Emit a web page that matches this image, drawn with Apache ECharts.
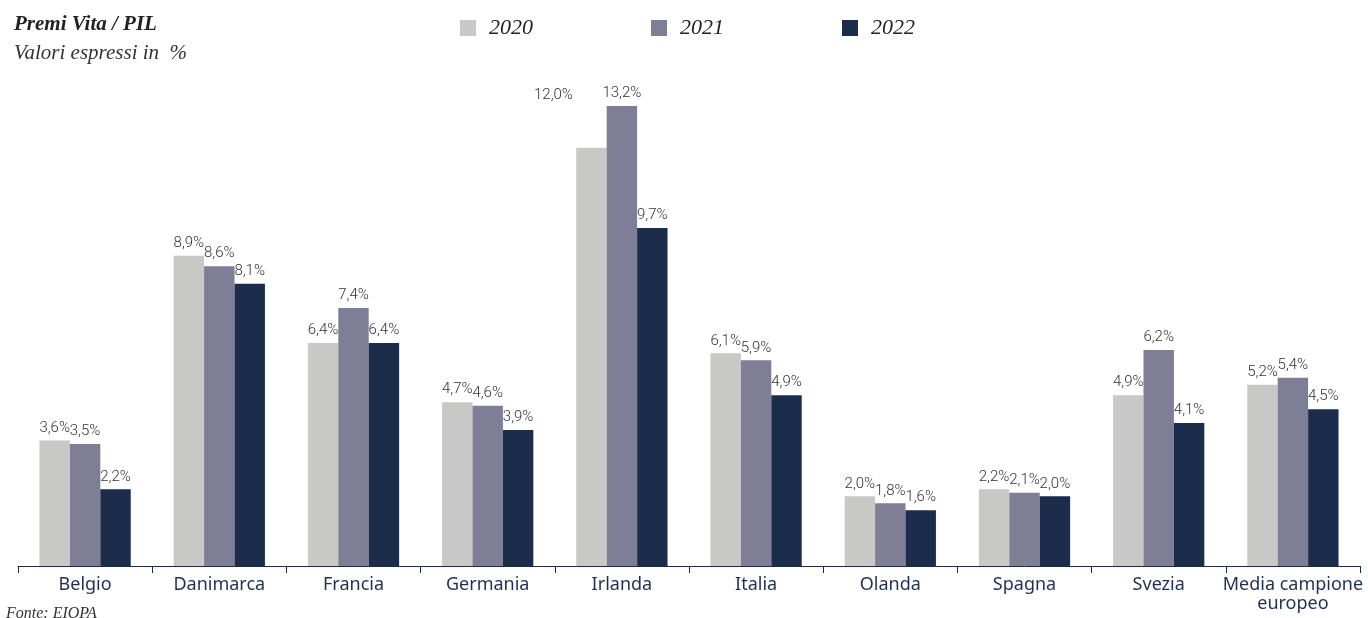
<!DOCTYPE html>
<html>
<head>
<meta charset="utf-8">
<script src="https://cdn.jsdelivr.net/npm/echarts@6/dist/echarts.min.js"></script>
<style>
html,body{margin:0;padding:0;background:#fff;}
#chart{width:1368px;height:618px;}
</style>
</head>
<body>
<div id="chart"></div>
<script>
//数据
var paesi = ['Belgio', 'Danimarca', 'Francia', 'Germania', 'Irlanda', 'Italia', 'Olanda', 'Spagna', 'Svezia', 'Media campione\neuropeo'];
var anni = ['2020', '2021', '2022'];
var valori2020 = [3.6, 8.9, 6.4, 4.7, 12.0, 6.1, 2.0, 2.2, 4.9, 5.2];
var valori2021 = [3.5, 8.6, 7.4, 4.6, 13.2, 5.9, 1.8, 2.1, 6.2, 5.4];
var valori2022 = [2.2, 8.1, 6.4, 3.9, 9.7, 4.9, 1.6, 2.0, 4.1, 4.5];
var colori = ['#c8c8c6', '#7e7e96', '#1b2d4b'];

var serifFont = '"Liberation Serif", "DejaVu Serif", serif';
var labelFont = 'Roboto, "Noto Sans", sans-serif';

function formatPct(v){
	return v.toFixed(1).replace('.', ',') + '%';
}

//单个系列配置
function makeSeries(name, values, color){
	var data = [];
	for(var i = 0; i < values.length; i++){
		var item = { value: values[i] };
		// Irlanda 2020: etichetta spostata a sinistra in alto
		if(name == '2020' && i == 4){
			item.label = { offset: [-38, -40] };
		}
		data.push(item);
	}
	return {
		name: name,
		type: 'bar',
		barGap: '0%',
		barCategoryGap: '32%',
		itemStyle: { color: color },
		label: {
			show: true,
			position: 'top',
			distance: 5,
			color: '#333',
			fontFamily: labelFont,
			fontWeight: 300,
			fontSize: 15,
			formatter: function(p){ return formatPct(p.value); }
		},
		data: data
	};
}

var chart = echarts.init(document.getElementById('chart'));
var option = {
	animation: false,
	color: colori,
	title: {
		text: 'Premi Vita / PIL',
		subtext: 'Valori espressi in  %',
		left: 9,
		top: 9,
		itemGap: 8,
		textStyle: {
			fontFamily: serifFont,
			fontStyle: 'italic',
			fontWeight: 'bold',
			fontSize: 21,
			color: '#222'
		},
		subtextStyle: {
			fontFamily: serifFont,
			fontStyle: 'italic',
			fontSize: 21,
			color: '#333'
		}
	},
	legend: {
		top: 12,
		left: 455,
		itemWidth: 16,
		itemHeight: 16,
		itemGap: 118,
		icon: 'rect',
		selectedMode: false,
		textStyle: {
			fontFamily: serifFont,
			fontStyle: 'italic',
			fontSize: 22,
			color: '#222',
			padding: [0, 0, 0, 8]
		},
		data: anni
	},
	graphic: [{
		type: 'text',
		left: 6,
		top: 606,
		style: {
			text: 'Fonte: EIOPA',
			font: 'italic 16px ' + serifFont,
			fill: '#333'
		}
	}],
	grid: {
		left: 18,
		right: 8,
		top: 78,
		bottom: 52
	},
	xAxis: {
		type: 'category',
		data: paesi,
		axisLine: { lineStyle: { color: '#1b2d4b', width: 1 } },
		axisTick: { show: true, length: 7, lineStyle: { color: '#1b2d4b' } },
		axisLabel: {
			interval: 0,
			color: '#1f3050',
			fontFamily: '"Noto Sans", sans-serif',
			fontSize: 18,
			lineHeight: 19,
			margin: 9
		}
	},
	yAxis: {
		type: 'value',
		min: 0,
		max: 14,
		show: false,
		splitLine: { show: false }
	},
	series: [
		makeSeries('2020', valori2020, colori[0]),
		makeSeries('2021', valori2021, colori[1]),
		makeSeries('2022', valori2022, colori[2])
	]
};
chart.setOption(option);
</script>
</body>
</html>
